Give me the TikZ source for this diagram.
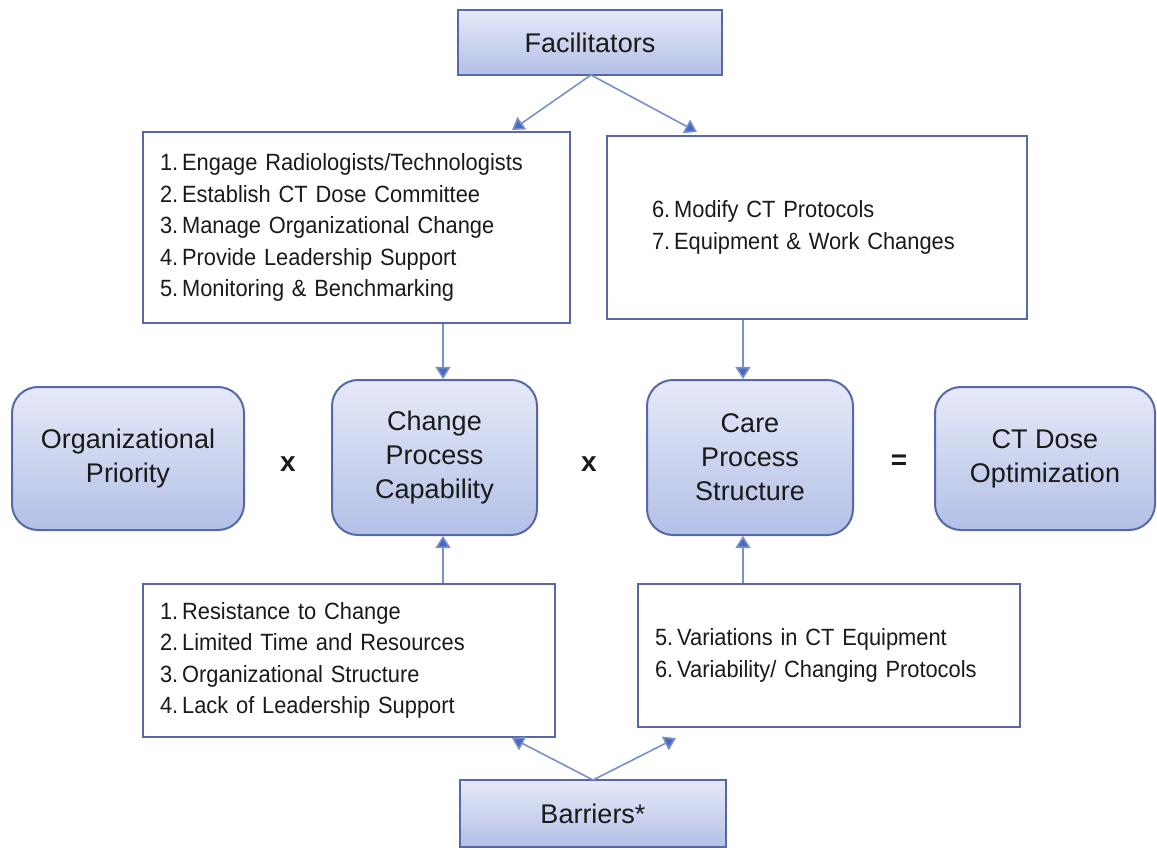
\documentclass[tikz,border=0pt]{standalone}
\usepackage{fontspec}
\setmainfont{Liberation Sans}
\newfontfamily\listfont{Liberation Sans}[FakeStretch=0.93]
\newcommand\mylistsetup{\listfont\fontsize{23.5}{31.5}\selectfont\spaceskip 5pt plus 1pt minus 1pt\relax}
\usetikzlibrary{arrows.meta,shapes.misc}
\definecolor{boxtop}{HTML}{E6E9F8}
\definecolor{boxbot}{HTML}{B3C0E6}
\definecolor{boxedge}{HTML}{5868A6}
\definecolor{arrline}{HTML}{7C90C8}
\definecolor{arrhead}{HTML}{4668C8}
\definecolor{txt}{HTML}{1A1A1A}
\tikzset{
  bigfont/.style={font=\fontsize{27}{34}\selectfont, text=txt},
  headbox/.style={draw=boxedge, line width=2pt, top color=boxtop, bottom color=boxbot, bigfont, align=center, inner sep=0pt},
  roundbox/.style={headbox, rounded corners=26pt},
  listbox/.style={draw=boxedge, line width=2pt, fill=white, align=left, inner ysep=0pt, text=txt,
     font=\mylistsetup},
  arr/.style={draw=arrline, line width=1.6pt, -{Triangle[width=15pt,length=12pt,fill=arrhead]}},
  op/.style={font=\fontsize{28}{34}\selectfont\bfseries, text=txt}
}
\begin{document}
\begin{tikzpicture}[x=1pt,y=-1pt]
\useasboundingbox (0,0) rectangle (1157,850);
% header boxes
\node[headbox, minimum width=264pt, minimum height=65pt] (fac) at (590,42.5) {Facilitators};
\node[headbox, minimum width=266pt, minimum height=67pt] (bar) at (593,813.5) {Barriers*};
% list boxes
\node[listbox, inner xsep=17pt, text width=393pt, minimum height=191pt] (fl) at (356.5,227.5)
 {1.\,Engage Radiologists/Technologists\\2.\,Establish CT Dose Committee\\3.\,Manage Organizational Change\\4.\,Provide Leadership Support\\5.\,Monitoring \& Benchmarking};
\node[listbox, inner xsep=45pt, text width=330pt, minimum height=183pt] (fr) at (817,227.5)
 {6.\,Modify CT Protocols\\7.\,Equipment \& Work Changes};
\node[listbox, inner xsep=17pt, text width=378pt, minimum height=153pt] (bl) at (349,660.5)
 {1.\,Resistance to Change\\2.\,Limited Time and Resources\\3.\,Organizational Structure\\4.\,Lack of Leadership Support};
\node[listbox, inner xsep=17pt, text width=348pt, minimum height=143pt] (br) at (829,655.5)
 {5.\,Variations in CT Equipment\\6.\,Variability/ Changing Protocols};
% main row
\node[roundbox, minimum width=232pt, minimum height=143pt] (op) at (128,458.5) {Organizational\\Priority};
\node[roundbox, minimum width=205pt, minimum height=155pt] (cpc) at (434.5,457.5) {Change\\Process\\Capability};
\node[roundbox, minimum width=206pt, minimum height=155pt] (cps) at (750,457.5) {Care\\Process\\Structure};
\node[roundbox, minimum width=220pt, minimum height=143pt] (ctd) at (1045,458.5) {CT Dose\\Optimization};
\node[op] (x1) at (288,464) {x};
\node[op] (x2) at (589,464) {x};
\node[op] (eq) at (899,462) {=};
% coordinates
\coordinate (fs) at (591,75);
\coordinate (fa1) at (512,130);
\coordinate (fa2) at (697,132);
\coordinate (bn) at (593,780);
\coordinate (ba1) at (512,738);
\coordinate (ba2) at (676,738);
\coordinate (c1) at (443,0);
\coordinate (c2) at (743,0);
% connectors
\draw[arr] (fs) -- (fa1);
\draw[arr] (fs) -- (fa2);
\draw[arr] (bn) -- (ba1);
\draw[arr] (bn) -- (ba2);
\draw[arr] (fl.south -| c1) -- (cpc.north -| c1);
\draw[arr] (fr.south -| c2) -- (cps.north -| c2);
\draw[arr] (bl.north -| c1) -- (cpc.south -| c1);
\draw[arr] (br.north -| c2) -- (cps.south -| c2);
\end{tikzpicture}
\end{document}
